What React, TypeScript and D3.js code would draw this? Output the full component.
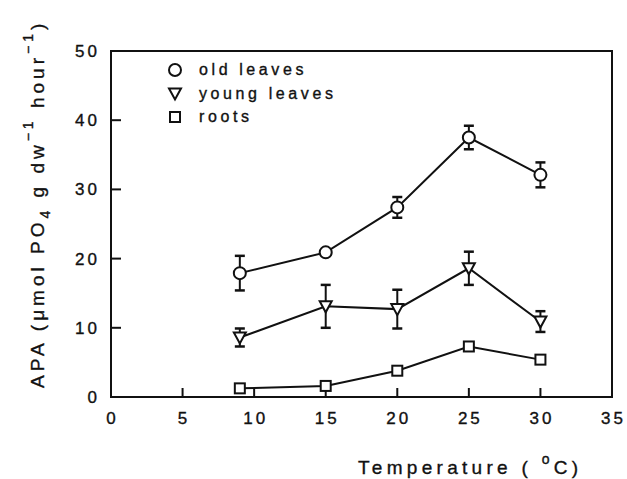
import React, { useEffect, useRef } from 'react';
import * as d3 from 'd3';

const temps = [9, 15, 20, 25, 30];
const oldLeaves = [17.9, 20.9, 27.4, 37.5, 32.1];
const oldLeavesErr = [2.5, 0, 1.5, 1.7, 1.8];
const youngLeaves = [8.6, 13.1, 12.7, 18.6, 10.9];
const youngLeavesErr = [1.3, 3.1, 2.8, 2.4, 1.5];
const roots = [1.25, 1.6, 3.8, 7.3, 5.4];
const rootsErr = [0, 0, 0, 0, 0];

const xTicks = [0, 5, 10, 15, 20, 25, 30, 35];
const yTicks = [0, 10, 20, 30, 40, 50];
const legendLabels = ['old leaves', 'young leaves', 'roots'];

const FONT = '"Liberation Sans", Arial, sans-serif';

const App: React.FC = () => {
  const svgRef = useRef<SVGSVGElement>(null);

  useEffect(() => {
    if (!svgRef.current) return;
    const svg = d3.select(svgRef.current);
    svg.selectAll('*').remove();

    const left = 111, right = 612, top = 51, bottom = 397;
    const x = d3.scaleLinear().domain([0, 35]).range([left, right]);
    const y = d3.scaleLinear().domain([0, 50]).range([bottom, top]);
    const ink = '#111';

    // frame
    svg.append('rect')
      .attr('x', left).attr('y', top)
      .attr('width', right - left).attr('height', bottom - top)
      .attr('fill', 'none').attr('stroke', ink).attr('stroke-width', 2);

    // ticks point into the plot
    svg.append('g').selectAll('line')
      .data(xTicks.filter(t => t > 0 && t < 35))
      .enter().append('line')
      .attr('x1', d => x(d)).attr('x2', d => x(d))
      .attr('y1', bottom).attr('y2', bottom - 9)
      .attr('stroke', ink).attr('stroke-width', 2);

    svg.append('g').selectAll('line')
      .data(yTicks.filter(t => t > 0 && t < 50))
      .enter().append('line')
      .attr('x1', left).attr('x2', left + 10)
      .attr('y1', d => y(d)).attr('y2', d => y(d))
      .attr('stroke', ink).attr('stroke-width', 2);

    const textStyle = (sel: any, size: number, spacing: number) =>
      sel.attr('font-family', FONT).attr('font-size', size)
        .attr('letter-spacing', spacing).attr('fill', ink)
        .attr('stroke', ink).attr('stroke-width', 0.35);

    // tick labels
    textStyle(svg.append('g').selectAll('text')
      .data(xTicks).enter().append('text')
      .attr('x', d => x(d) + 1.5).attr('y', 424)
      .attr('text-anchor', 'middle'), 17, 3)
      .text((d: number) => d);

    textStyle(svg.append('g').selectAll('text')
      .data(yTicks).enter().append('text')
      .attr('x', 100).attr('y', d => y(d) + 6)
      .attr('text-anchor', 'end'), 17, 3)
      .text((d: number) => d);

    // axis titles
    const xt = textStyle(svg.append('text').attr('x', 358).attr('y', 474), 19, 4.3);
    xt.append('tspan').text('Temperature ( ');
    xt.append('tspan').attr('font-size', 14).attr('dy', -10).text('o');
    xt.append('tspan').attr('dy', 10).text('C)');

    const yt = textStyle(svg.append('text')
      .attr('transform', 'translate(44,388) rotate(-90)'), 19, 4);
    yt.append('tspan').text('APA (\u03bcmol PO');
    yt.append('tspan').attr('font-size', 14).attr('dy', 6).text('4');
    yt.append('tspan').attr('dy', -6).text(' g dw');
    yt.append('tspan').attr('font-size', 14).attr('dy', -11).text('\u22121');
    yt.append('tspan').attr('dy', 11).text(' hour');
    yt.append('tspan').attr('font-size', 14).attr('dy', -11).text('\u22121');
    yt.append('tspan').attr('dy', 11).text(')');

    const series = [
      { vals: oldLeaves, err: oldLeavesErr, shape: 'circle' },
      { vals: youngLeaves, err: youngLeavesErr, shape: 'tri' },
      { vals: roots, err: rootsErr, shape: 'square' },
    ];

    const drawMarker = (g: d3.Selection<SVGGElement, unknown, null, undefined>, shape: string, cx: number, cy: number) => {
      if (shape === 'circle') {
        g.append('circle').attr('cx', cx).attr('cy', cy).attr('r', 6)
          .attr('fill', '#fff').attr('stroke', ink).attr('stroke-width', 2);
      } else if (shape === 'tri') {
        g.append('path')
          .attr('d', `M${cx - 6},${cy - 5}L${cx + 6},${cy - 5}L${cx},${cy + 6}Z`)
          .attr('fill', '#fff').attr('stroke', ink).attr('stroke-width', 2);
      } else {
        g.append('rect').attr('x', cx - 5).attr('y', cy - 5)
          .attr('width', 10).attr('height', 10)
          .attr('fill', '#fff').attr('stroke', ink).attr('stroke-width', 2);
      }
    };

    const line = d3.line<number>().x((_, i) => x(temps[i])).y(d => y(d));

    series.forEach(s => {
      const g = svg.append('g');
      g.append('path').attr('d', line(s.vals))
        .attr('fill', 'none').attr('stroke', ink).attr('stroke-width', 2);
      s.vals.forEach((v, i) => {
        const e = s.err[i];
        if (e > 0) {
          const cx = x(temps[i]);
          g.append('line').attr('x1', cx).attr('x2', cx)
            .attr('y1', y(v - e)).attr('y2', y(v + e))
            .attr('stroke', ink).attr('stroke-width', 2);
          [v - e, v + e].forEach(b => {
            g.append('line').attr('x1', cx - 5).attr('x2', cx + 5)
              .attr('y1', y(b)).attr('y2', y(b))
              .attr('stroke', ink).attr('stroke-width', 2.5);
          });
        }
      });
      s.vals.forEach((v, i) => drawMarker(g, s.shape, x(temps[i]), y(v)));
    });

    // legend
    const lg = svg.append('g');
    legendLabels.forEach((lab, i) => {
      const ly = 70 + i * 23.5;
      drawMarker(lg, series[i].shape, 175, ly);
      textStyle(lg.append('text').attr('x', 199).attr('y', ly + 5), 16, 3.6).text(lab);
    });
  }, []);

  return (
    <svg ref={svgRef} width={627} height={479}
      style={{ position: 'absolute', left: 0, top: 0, background: '#fff' }} />
  );
};

export default App;
